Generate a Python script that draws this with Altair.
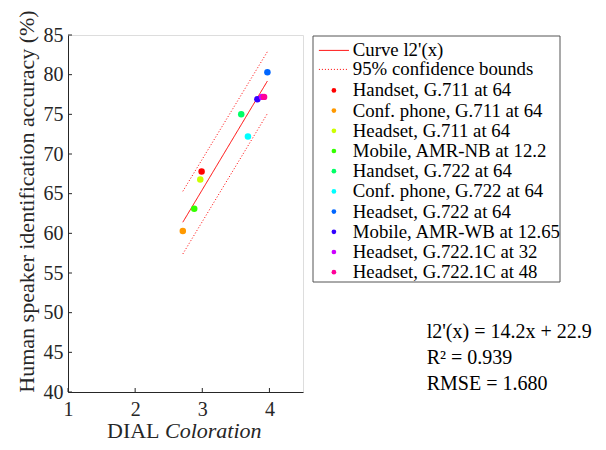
import altair as alt
import pandas as pd

# ---------------- data ----------------
CONDITIONS = [
    "Handset, G.711 at 64",
    "Conf. phone, G.711 at 64",
    "Headset, G.711 at 64",
    "Mobile, AMR-NB at 12.2",
    "Handset, G.722 at 64",
    "Conf. phone, G.722 at 64",
    "Headset, G.722 at 64",
    "Mobile, AMR-WB at 12.65",
    "Headset, G.722.1C at 32",
    "Headset, G.722.1C at 48",
]
DIAL_X = [2.99, 2.71, 2.97, 2.88, 3.58, 3.68, 3.97, 3.82, 3.89, 3.92]
ACCURACY = [67.8, 60.3, 66.8, 63.1, 75.0, 72.2, 80.3, 76.9, 77.2, 77.2]
COLORS = ["#ff0000", "#ff9900", "#ccff00", "#33ff00", "#00ff66",
          "#00ffff", "#0066ff", "#3300ff", "#cc00ff", "#ff0099"]

LINE_SERIES = ["Curve l2'(x)", "95% confidence bounds"]
FIT_X = [2.71, 3.97]
FIT_Y = [61.4, 79.2]
UPPER_Y = [65.3, 82.9]
LOWER_Y = [57.4, 75.1]

ANNOTATION = ["l2'(x) = 14.2x + 22.9", "R\u00b2 = 0.939", "RMSE = 1.680"]
X_TICKS = [1, 2, 3, 4]
Y_TICKS = [40, 45, 50, 55, 60, 65, 70, 75, 80, 85]
X_TITLE = ["DIAL", "Coloration"]
Y_TITLE = "Human speaker identification accuracy (%)"

# ---------------- tables ----------------
pts = pd.DataFrame({"condition": CONDITIONS, "x": DIAL_X, "y": ACCURACY})
fit = pd.DataFrame({"series": [LINE_SERIES[0]] * 2, "x": FIT_X, "y": FIT_Y})
bounds = pd.DataFrame({
    "series": [LINE_SERIES[1]] * 4,
    "part": ["upper", "upper", "lower", "lower"],
    "x": FIT_X + FIT_X,
    "y": UPPER_Y + LOWER_Y,
})
xt = pd.DataFrame({"x": X_TICKS})
yt = pd.DataFrame({"y": Y_TICKS})

FONT = "Liberation Serif"
AX = "#262626"
W, H = 235, 357

xscale = alt.Scale(domain=[1, 4.5], nice=False, zero=False)
yscale = alt.Scale(domain=[40, 85], nice=False, zero=False)
xaxis = alt.Axis(values=X_TICKS, title=None, format="d", grid=False, ticks=False,
                 labelFont=FONT, labelFontSize=20, labelColor=AX, labelPadding=7,
                 domainColor=AX, domainWidth=1, labelFlush=False)
yaxis = alt.Axis(values=Y_TICKS, title=Y_TITLE, format="d", grid=False, ticks=False,
                 labelFont=FONT, labelFontSize=20, labelColor=AX, labelPadding=5,
                 domainColor=AX, domainWidth=1, titleFont=FONT, titleFontSize=22,
                 titleFontWeight="normal", titleColor=AX, titlePadding=5,
                 titleY=166, labelFlush=False)


def X(f="x"):
    return alt.X(f, type="quantitative", scale=xscale, axis=xaxis)


def Y(f="y"):
    return alt.Y(f, type="quantitative", scale=yscale, axis=yaxis)


LEG = dict(orient="none", title=None, labelFont=FONT, labelFontSize=18.8,
           labelColor="black", padding=0, labelOffset=9.5,
           symbolOffset=0, labelLimit=400, legendX=256.5)
LINE_LEG = dict(symbolType="M-3,0H3", symbolSize=100, symbolStrokeColor="red",
                symbolStrokeWidth=1, **LEG)

fit_layer = alt.Chart(fit).mark_line(color="red", strokeWidth=1).encode(
    x=X(), y=Y(),
    strokeDash=alt.StrokeDash(
        "series:N",
        scale=alt.Scale(domain=[LINE_SERIES[0]], range=[[1, 0]]),
        legend=alt.Legend(legendY=6, **LINE_LEG),
    ),
)
bounds_layer = alt.Chart(bounds).mark_line(color="red", strokeWidth=1).encode(
    x=X(), y=Y(),
    strokeDash=alt.StrokeDash(
        "series:N",
        scale=alt.Scale(domain=[LINE_SERIES[1]], range=[[1, 2]]),
        legend=alt.Legend(legendY=25, **LINE_LEG),
    ),
    detail="part:N",
)
line_layer = alt.layer(fit_layer, bounds_layer).resolve_scale(strokeDash="independent")

point_layer = alt.Chart(pts).mark_circle(size=42, opacity=1).encode(
    x=X(), y=Y(),
    color=alt.Color("condition:N", scale=alt.Scale(domain=CONDITIONS, range=COLORS),
                    legend=alt.Legend(symbolType="circle", symbolSize=22,
                                      symbolStrokeWidth=0, rowPadding=0.2,
                                      legendY=46, **LEG)),
    order=alt.value(0),
)

xtick_layer = alt.Chart(xt).mark_rule(color=AX, strokeWidth=1).encode(
    x=X(), y=alt.value(H), y2=alt.value(H - 4))
ytick_layer = alt.Chart(yt).mark_rule(color=AX, strokeWidth=1).encode(
    y=Y(), x=alt.value(0), x2=alt.value(4))

one = pd.DataFrame({"k": [0]})
box = alt.Chart(one).mark_rect(fill=None, stroke="#555555", strokeWidth=1).encode(
    x=alt.value(245), x2=alt.value(492), y=alt.value(1), y2=alt.value(247))

ann_layers = []
for line, ypos in zip(ANNOTATION, [302.7, 329, 355]):
    ann_layers.append(
        alt.Chart(pd.DataFrame({"t": [line]})).mark_text(
            font=FONT, fontSize=20, align="left", baseline="alphabetic", color="black"
        ).encode(text="t:N", x=alt.value(358.7), y=alt.value(ypos))
    )

xt1 = alt.Chart(pd.DataFrame({"t": [X_TITLE[0]]})).mark_text(
    font=FONT, fontSize=22, align="left", baseline="alphabetic", color=AX
).encode(text="t:N", x=alt.value(39), y=alt.value(402.5))
xt2 = alt.Chart(pd.DataFrame({"t": [X_TITLE[1]]})).mark_text(
    font=FONT, fontSize=22, fontStyle="italic", align="left", baseline="alphabetic", color=AX
).encode(text="t:N", x=alt.value(97), y=alt.value(402.5))

chart = alt.layer(
    xtick_layer, ytick_layer, line_layer, point_layer, box, xt1, xt2, *ann_layers
).resolve_scale(strokeDash="independent").properties(
    width=W, height=H,
    autosize=alt.AutoSizeParams(type="none"),
    padding={"left": 60, "top": 27, "right": 295, "bottom": 50},
).configure_view(stroke=None).configure(font=FONT)

chart.save("out.html", embed_options={"renderer": "svg", "actions": False})
